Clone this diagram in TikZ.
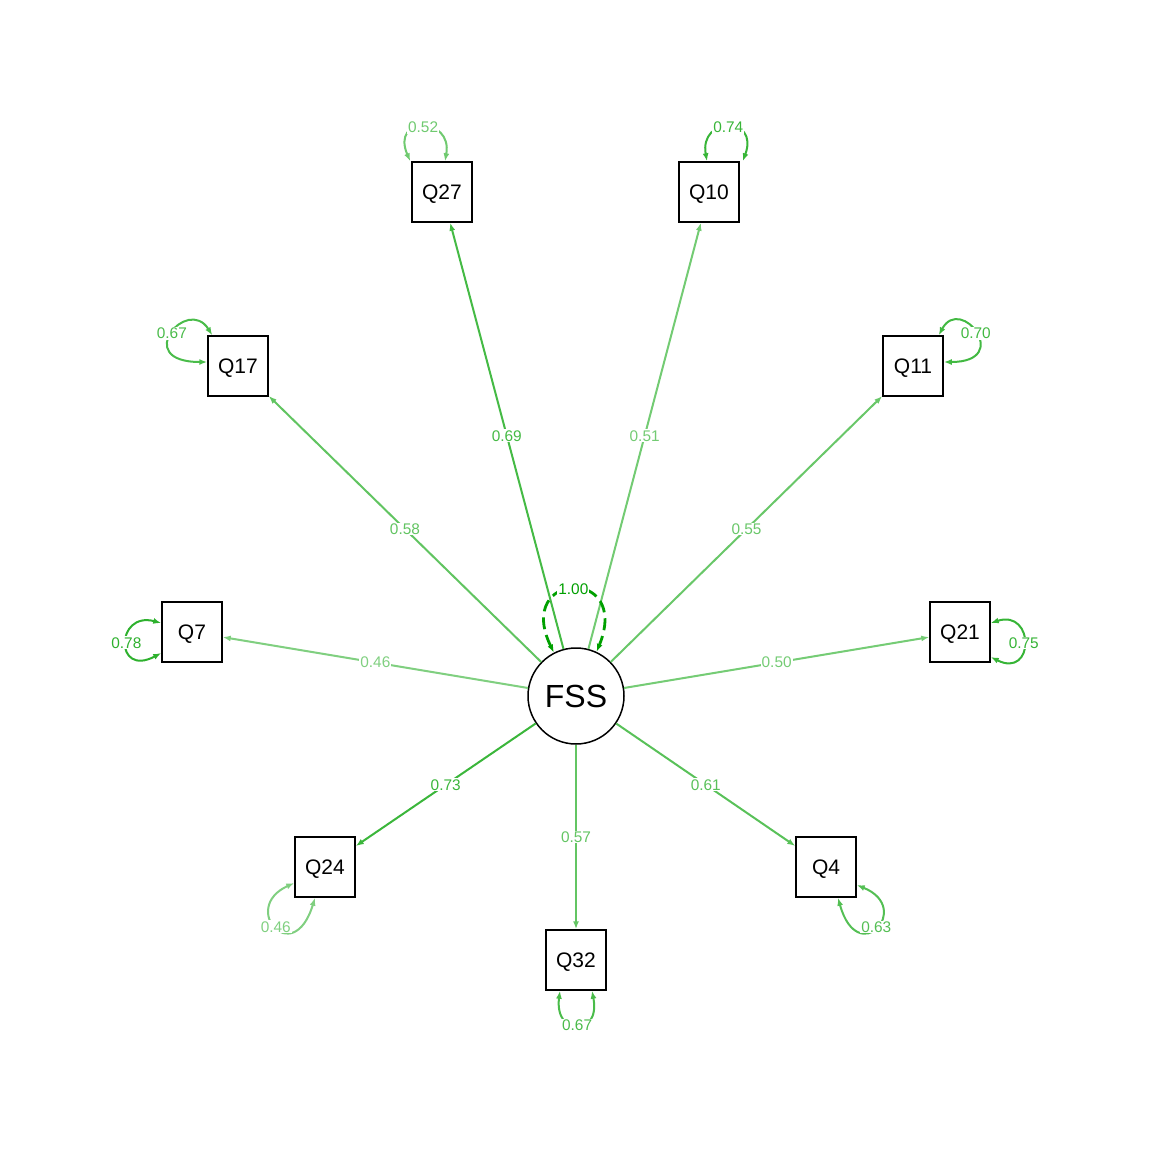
\documentclass[tikz,border=0pt]{standalone}
\usepackage{fontspec}
\setmainfont{Liberation Sans}
\usetikzlibrary{arrows.meta}
\definecolor{semgreen}{RGB}{0,160,0}

\begin{document}
\begin{tikzpicture}[
  x=0.5pt,y=-0.5pt,
  ind/.style={rectangle,draw,line width=0.75pt,minimum size=30pt,inner sep=0pt,text depth=0pt,font=\fontsize{10.5}{12}\selectfont},
  lat/.style={circle,draw,line width=0.75pt,minimum size=48pt,inner sep=0pt,font=\fontsize{16}{18}\selectfont},
  load/.style={-{Latex[length=4pt,width=3pt]},line width=1pt,draw=semgreen!#1!white,text=semgreen!#1!white},
  resid/.style={{Latex[length=4pt,width=3pt]}-{Latex[length=4pt,width=3pt]},line width=1pt,draw=semgreen!#1!white,text=semgreen!#1!white},
  val/.style={fill=white,inner sep=0.5pt,font=\fontsize{7.7}{9}\selectfont}
]
\useasboundingbox (0,0) rectangle (1152,1152);

% Latent
\node[lat] (FSS) at (576,696) {FSS};

% Indicators
\node[ind] (Q27) at (442,192) {Q27};
\node[ind] (Q10) at (709,192) {Q10};
\node[ind] (Q17) at (238,366) {Q17};
\node[ind] (Q11) at (913,366) {Q11};
\node[ind] (Q7)  at (192,632) {Q7};
\node[ind] (Q21) at (960,632) {Q21};
\node[ind] (Q24) at (325,867) {Q24};
\node[ind] (Q32) at (576,960) {Q32};
\node[ind] (Q4)  at (826,867) {Q4};

% Loadings
\draw[load=73] (FSS) -- node[val] {0.69} (Q27);
\draw[load=55] (FSS) -- node[val] {0.51} (Q10);
\draw[load=62] (FSS) -- node[val] {0.58} (Q17);
\draw[load=59] (FSS) -- node[val] {0.55} (Q11);
\draw[load=50] (FSS) -- node[val] {0.46} (Q7);
\draw[load=54] (FSS) -- node[val] {0.50} (Q21);
\draw[load=77] (FSS) -- node[val] {0.73} (Q24);
\draw[load=61] (FSS) -- node[val] {0.57} (Q32);
\draw[load=65] (FSS) -- node[val] {0.61} (Q4);

% Residuals
\draw[resid=56] ([xshift=-0.5pt]Q27.north west) .. controls +(-20,-46) and +(8,-45) .. node[val] {0.52} ([xshift=1.5pt]Q27.north);
\draw[resid=78] ([xshift=-1pt]Q10.north) .. controls +(-8,-45) and +(17,-46) .. node[val] {0.74} ([xshift=1.5pt]Q10.north east);
\draw[resid=71] ([xshift=2.5pt]Q17.north west) .. controls +(-25,-40) and +(-76,0) .. node[val] {0.67} ([yshift=2pt]Q17.west);
\draw[resid=74] ([xshift=-2.5pt]Q11.north east) .. controls +(22,-41) and +(70,0) .. node[val] {0.70} ([yshift=2pt]Q11.east);
\draw[resid=82] ([yshift=4.5pt]Q7.west) .. controls +(-46,-12) and +(-47,25) .. node[val] {0.78} ([yshift=-10.5pt]Q7.west);
\draw[resid=79] ([yshift=4.5pt]Q21.east) .. controls +(44,-14) and +(44,22) .. node[val] {0.75} ([yshift=-12.5pt]Q21.east);
\draw[resid=50] ([yshift=-8pt]Q24.west) .. controls +(-55,25) and +(-22,72) .. node[val] {0.46} ([xshift=-5pt]Q24.south);
\draw[resid=71] ([xshift=-8pt]Q32.south) .. controls +(-6,46) and +(9,47) .. node[val] {0.67} ([xshift=8pt]Q32.south);
\draw[resid=67] ([xshift=6pt]Q4.south) .. controls +(20,72) and +(57,23) .. node[val] {0.63} ([yshift=-9pt]Q4.east);
\draw[resid=100,line width=1.4pt,dash pattern=on 6pt off 3pt] (FSS.117) .. controls +(-40,-82) and +(35,-86) .. node[val] {1.00} (FSS.65);

\end{tikzpicture}
\end{document}
